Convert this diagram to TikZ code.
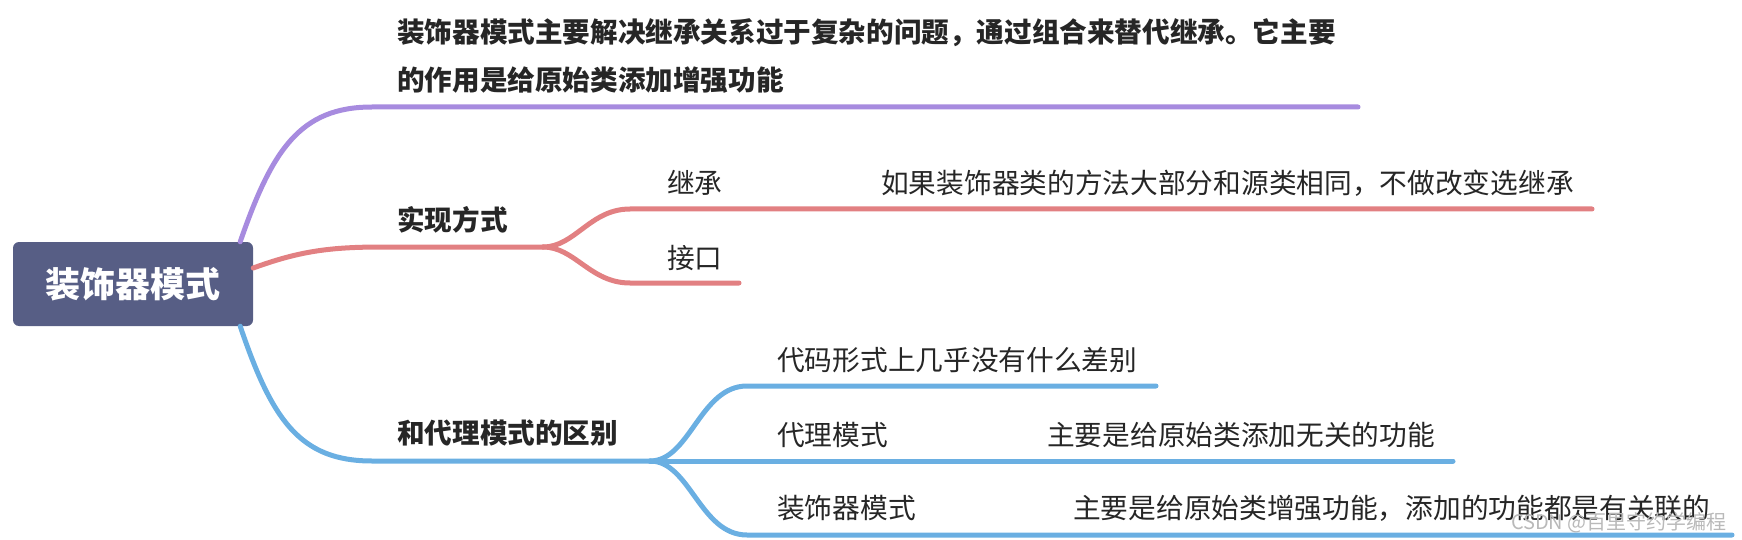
\documentclass[tikz,border=0pt]{standalone}
\usepackage{fontspec}
\newfontfamily\cjk{Noto Sans CJK SC}
\definecolor{rootblue}{HTML}{575E85}
\definecolor{lilac}{HTML}{A78BDF}
\definecolor{rose}{HTML}{E28082}
\definecolor{sky}{HTML}{6AAFE2}
\definecolor{ink}{HTML}{262626}
\begin{document}
\begin{tikzpicture}
	[x=1pt,y=-1pt,
	 root/.style={fill=rootblue,rounded corners=6pt,minimum width=240pt,minimum height=84pt,text=white,font=\cjk\bfseries\fontsize{35}{35}\selectfont},
	 topic/.style={anchor=west,inner sep=0pt,text=ink,font=\cjk\bfseries\fontsize{27.6}{48}\selectfont},
	 leaf/.style={anchor=west,inner sep=0pt,text=ink,font=\cjk\fontsize{27.7}{27.7}\selectfont},
	 branch/.style={line width=5pt,line cap=round,color=#1},branch/.default=sky]
	\useasboundingbox (0,0) rectangle (1742,540);
	\node[root] (root) at (133,284) {装饰器模式};
	\node[topic,align=left] (desc) at (397,56) {装饰器模式主要解决继承关系过于复杂的问题，通过组合来替代继承。它主要\\的作用是给原始类添加增强功能};
	\node[topic] (impl) at (397,220) {实现方式};
	\node[leaf] (inh) at (667,183) {继承};
	\node[leaf] (inhnote) at (881,183) {如果装饰器类的方法大部分和源类相同，不做改变选继承};
	\node[leaf] (intf) at (667,258) {接口};
	\node[topic] (diff) at (397,433) {和代理模式的区别};
	\node[leaf] (same) at (777,360) {代码形式上几乎没有什么差别};
	\node[leaf] (proxy) at (777,435) {代理模式};
	\node[leaf] (proxynote) at (1047,435) {主要是给原始类添加无关的功能};
	\node[leaf] (deco) at (777,508) {装饰器模式};
	\node[leaf] (deconote) at (1073,508) {主要是给原始类增强功能，添加的功能都是有关联的};
	\node[anchor=east,inner sep=0pt,text=gray!55,font=\cjk\fontsize{20}{20}\selectfont] (mark) at (1727,523) {CSDN @百里守约学编程};
	\coordinate (descend) at (1358,107);
	\coordinate (implfork) at (543,247);
	\coordinate (inhend) at (1592,209);
	\coordinate (intfend) at (739,283);
	\coordinate (difffork) at (650,461);
	\coordinate (sameend) at (1156,386);
	\coordinate (proxyend) at (1453,461);
	\coordinate (decoend) at (1732,535);
	\draw[branch=lilac] ([xshift=-13pt]root.north east) .. controls (272,150) and (300,107) .. (372,107) -- (descend);
	\draw[branch=rose] ([yshift=16pt]root.east) .. controls (300,251) and (330,247) .. (383,247) -- (implfork);
	\draw[branch=rose] (implfork) .. controls (575,247) and (590,209) .. (630,209) -- (inhend);
	\draw[branch=rose] (implfork) .. controls (575,247) and (590,283) .. (630,283) -- (intfend);
	\draw[branch] ([xshift=-13pt]root.south east) .. controls (272,420) and (300,461) .. (372,461) -- (difffork);
	\draw[branch] (difffork) .. controls (690,461) and (700,386) .. (747,386) -- (sameend);
	\draw[branch] (difffork) -- (proxyend);
	\draw[branch] (difffork) .. controls (690,461) and (700,535) .. (747,535) -- (decoend);
\end{tikzpicture}
\end{document}
